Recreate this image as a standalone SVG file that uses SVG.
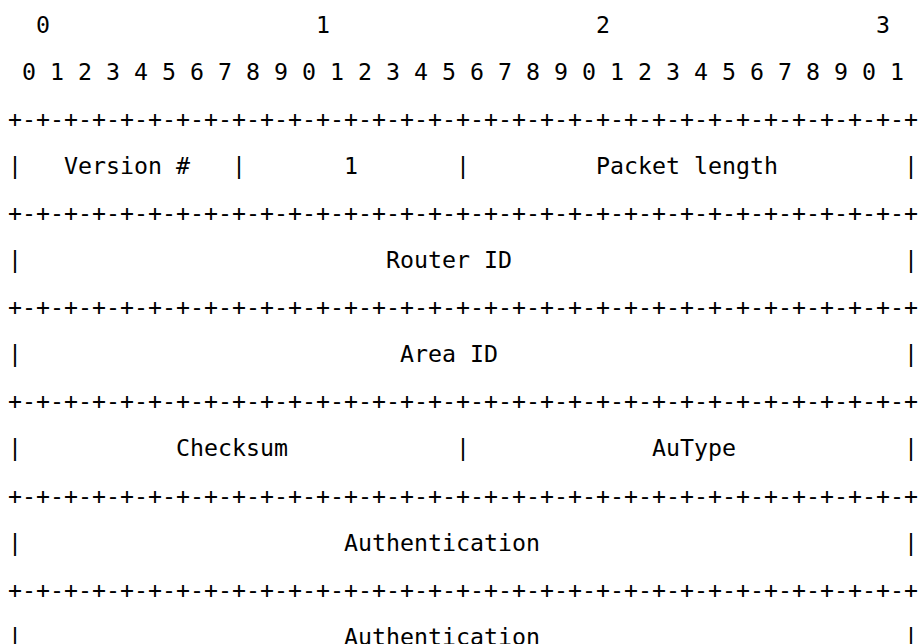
<svg xmlns="http://www.w3.org/2000/svg" width="919" height="644" viewBox="0 0 919 644">
<style>
text{font-family:"DejaVu Sans Mono","Liberation Mono",monospace;font-size:23.25px;fill:#000}
.rule{letter-spacing:0}
</style>
<defs>
<text id="rule" class="rule" x="8" textLength="910" lengthAdjust="spacing">+-+-+-+-+-+-+-+-+-+-+-+-+-+-+-+-+-+-+-+-+-+-+-+-+-+-+-+-+-+-+-+-+</text>
</defs>
<rect width="919" height="644" fill="#fff"/>
<g id="bit-scale">
<text y="32.5"><tspan x="36">0</tspan><tspan x="316">1</tspan><tspan x="596">2</tspan><tspan x="876">3</tspan></text>
<text y="79.6" x="22 50 78 106 134 162 190 218 246 274 302 330 358 386 414 442 470 498 526 554 582 610 638 666 694 722 750 778 806 834 862 890">01234567890123456789012345678901</text>
</g>
<g id="rules">
<use href="#rule" y="126.7"/>
<use href="#rule" y="220.9"/>
<use href="#rule" y="315.1"/>
<use href="#rule" y="409.3"/>
<use href="#rule" y="503.5"/>
<use href="#rule" y="597.7"/>
</g>
<g id="row-version">
<text y="173.8"><tspan x="8">|</tspan><tspan x="64">Version #</tspan><tspan x="232">|</tspan><tspan x="344">1</tspan><tspan x="456">|</tspan><tspan x="596">Packet length</tspan><tspan x="904">|</tspan></text>
</g>
<g id="row-router">
<text y="268"><tspan x="8">|</tspan><tspan x="386">Router ID</tspan><tspan x="904">|</tspan></text>
</g>
<g id="row-area">
<text y="362.2"><tspan x="8">|</tspan><tspan x="400">Area ID</tspan><tspan x="904">|</tspan></text>
</g>
<g id="row-checksum">
<text y="456.4"><tspan x="8">|</tspan><tspan x="176">Checksum</tspan><tspan x="456">|</tspan><tspan x="652">AuType</tspan><tspan x="904">|</tspan></text>
</g>
<g id="row-auth1">
<text y="550.6"><tspan x="8">|</tspan><tspan x="344">Authentication</tspan><tspan x="904">|</tspan></text>
</g>
<g id="row-auth2">
<text y="644.8"><tspan x="8">|</tspan><tspan x="344">Authentication</tspan><tspan x="904">|</tspan></text>
</g>
</svg>
